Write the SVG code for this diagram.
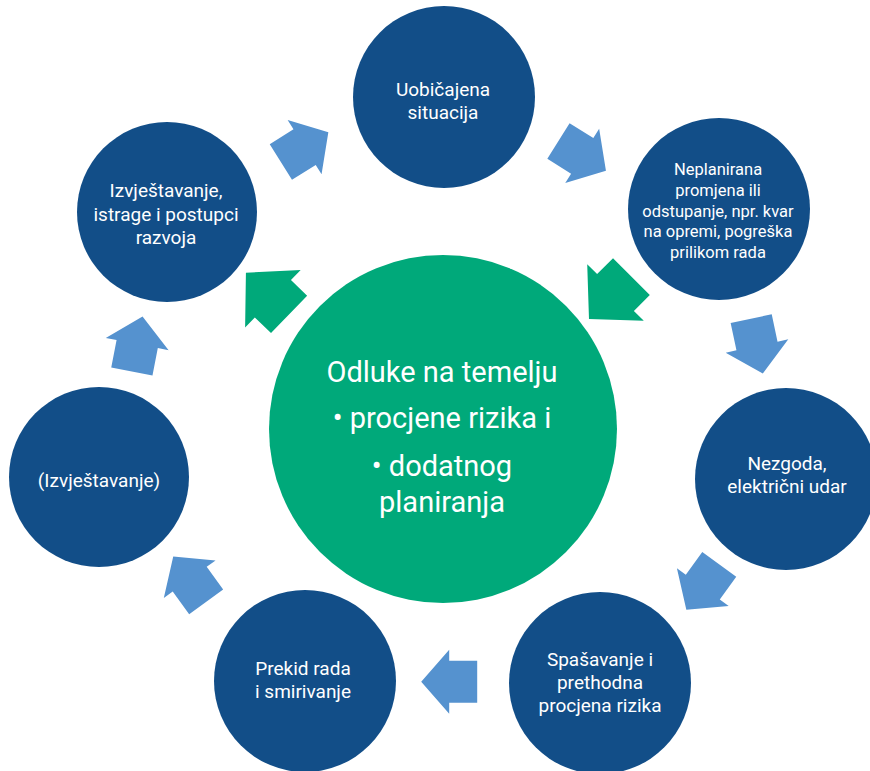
<svg xmlns="http://www.w3.org/2000/svg" width="870" height="771" viewBox="0 0 870 771">
<defs>
<style>
.node{fill:#124E88}
.center{fill:#00A97A}
.t{font-family:Roboto,"Liberation Sans",sans-serif;fill:#ffffff;text-anchor:middle;font-size:19px}
.ts{font-size:16.5px}
.tc{font-family:Roboto,"Liberation Sans",sans-serif;fill:#ffffff;text-anchor:middle;font-size:29px}
.ab{fill:#5592CF}
.ag{fill:#00A97A}
</style>
<polygon id="barrow" points="0,-28 32,0 21,0 21,28 -21,28 -21,0 -32,0"/>
<polygon id="garrow" points="0,-30 40,7.5 26,7.5 26,30 -26,30 -26,7.5 -40,7.5"/>
</defs>
<rect width="870" height="771" fill="#ffffff"/>
<g id="connectors">
<use href="#barrow" class="ab" transform="translate(304.6,147.1) rotate(58)"/>
<use href="#barrow" class="ab" transform="translate(582.2,155.9) rotate(122)"/>
<use href="#barrow" class="ab" transform="translate(757,346) rotate(168)"/>
<use href="#barrow" class="ab" transform="translate(702.8,587.1) rotate(216)"/>
<use href="#barrow" class="ab" transform="translate(449.2,681.7) rotate(-90)"/>
<use href="#barrow" class="ab" transform="translate(189.7,579.2) rotate(-36)"/>
<use href="#barrow" class="ab" transform="translate(137.2,344.1) rotate(11)"/>
<use href="#garrow" class="ag" transform="translate(610.2,297.8) rotate(-135)"/>
<use href="#garrow" class="ag" transform="translate(267.5,293.5) rotate(-46)"/>
</g>
<g id="n-center">
<circle class="center" cx="443" cy="429" r="174"/>
<text class="tc" x="442" y="382">Odluke na temelju</text>
<text class="tc" x="442" y="428">• procjene rizika i</text>
<text class="tc" x="442" y="476">• dodatnog</text>
<text class="tc" x="442" y="512">planiranja</text>
</g>
<g id="n-uobicajena">
<circle class="node" cx="444" cy="97" r="91"/>
<text class="t" x="443" y="96">Uobičajena</text>
<text class="t" x="443" y="119">situacija</text>
</g>
<g id="n-neplanirana">
<circle class="node" cx="719" cy="209" r="91"/>
<text class="t ts" x="718" y="175">Neplanirana</text>
<text class="t ts" x="718" y="196">promjena ili</text>
<text class="t ts" x="718" y="217">odstupanje, npr. kvar</text>
<text class="t ts" x="718" y="237">na opremi, pogreška</text>
<text class="t ts" x="718" y="258">prilikom rada</text>
</g>
<g id="n-nezgoda">
<circle class="node" cx="786" cy="479" r="91"/>
<text class="t" x="787" y="470">Nezgoda,</text>
<text class="t" x="787" y="493">električni udar</text>
</g>
<g id="n-spasavanje">
<circle class="node" cx="600" cy="683" r="91"/>
<text class="t" x="600" y="666">Spašavanje i</text>
<text class="t" x="600" y="689">prethodna</text>
<text class="t" x="600" y="712">procjena rizika</text>
</g>
<g id="n-prekid">
<circle class="node" cx="305" cy="681" r="91"/>
<text class="t" x="303" y="675">Prekid rada</text>
<text class="t" x="303" y="698">i smirivanje</text>
</g>
<g id="n-izvjestavanje2">
<circle class="node" cx="99" cy="477" r="90"/>
<text class="t" x="99" y="487">(Izvještavanje)</text>
</g>
<g id="n-izvjestavanje1">
<circle class="node" cx="167" cy="212" r="90"/>
<text class="t" x="166" y="197">Izvještavanje,</text>
<text class="t" x="166" y="221">istrage i postupci</text>
<text class="t" x="166" y="244">razvoja</text>
</g>
</svg>
